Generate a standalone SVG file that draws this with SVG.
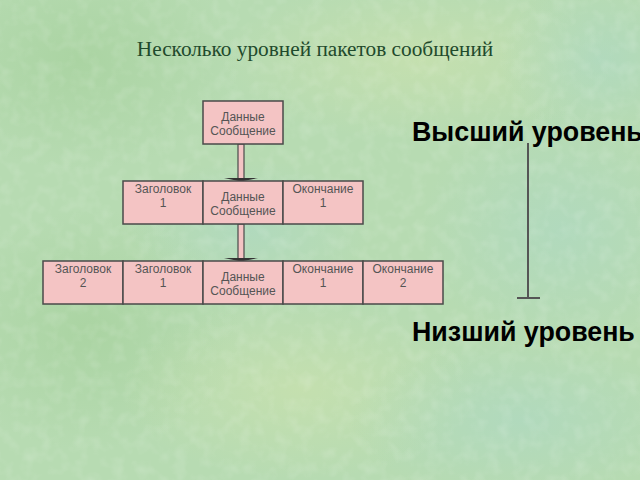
<svg xmlns="http://www.w3.org/2000/svg" width="640" height="480" viewBox="0 0 640 480">
  <defs>
    <style>
      .box { fill: #f4c4c4; stroke: #4a4a4a; stroke-width: 1.5; }
      .lbl { font-family: "Liberation Sans", Arial, sans-serif; font-size: 12px; fill: #555555; text-anchor: middle; }
      .title { font-family: "Liberation Serif", "Times New Roman", serif; font-size: 21.3px; fill: #1f4a2c; text-anchor: middle; }
      .level { font-family: "Liberation Sans", Arial, sans-serif; font-size: 26.8px; font-weight: bold; fill: #000000; }
      .bar { fill: #f4c4c4; stroke: #4a4a4a; stroke-width: 1.2; }
      .head { fill: #333333; }
      .scale { stroke: #555555; stroke-width: 2; fill: none; }
    </style>
    <radialGradient id="g1" cx="0.5" cy="0.5" r="0.5">
      <stop offset="0" stop-color="#cfe3ac" stop-opacity="0.55"/>
      <stop offset="1" stop-color="#cfe3ac" stop-opacity="0"/>
    </radialGradient>
    <radialGradient id="g2" cx="0.5" cy="0.5" r="0.5">
      <stop offset="0" stop-color="#acd8c6" stop-opacity="0.55"/>
      <stop offset="1" stop-color="#acd8c6" stop-opacity="0"/>
    </radialGradient>
    <radialGradient id="g3" cx="0.5" cy="0.5" r="0.5">
      <stop offset="0" stop-color="#a2cf98" stop-opacity="0.6"/>
      <stop offset="1" stop-color="#a2cf98" stop-opacity="0"/>
    </radialGradient>
    <filter id="tex" x="0" y="0" width="100%" height="100%">
      <feTurbulence type="fractalNoise" baseFrequency="0.08" numOctaves="2" seed="3" result="n"/>
      <feColorMatrix type="matrix" values="0 0 0 0 1  0 0 0 0 1  0 0 0 0 1  0 0 0 -1.4 0.8" in="n"/>
    </filter>
  </defs>

  <g id="background">
    <rect x="0" y="0" width="640" height="480" fill="#b7dbb2"/>
    <ellipse cx="80" cy="60" rx="160" ry="110" fill="url(#g3)"/>
    <ellipse cx="420" cy="60" rx="200" ry="80" fill="url(#g1)"/>
    <ellipse cx="560" cy="230" rx="140" ry="120" fill="url(#g2)"/>
    <ellipse cx="90" cy="330" rx="150" ry="120" fill="url(#g3)"/>
    <ellipse cx="300" cy="390" rx="180" ry="90" fill="url(#g1)"/>
    <ellipse cx="520" cy="420" rx="170" ry="80" fill="url(#g2)"/>
    <ellipse cx="250" cy="230" rx="120" ry="70" fill="url(#g2)"/>
    <ellipse cx="600" cy="60" rx="100" ry="80" fill="url(#g2)"/>
    <rect x="0" y="0" width="640" height="480" filter="url(#tex)" opacity="0.2"/>
  </g>

  <text class="title" x="315" y="56">Несколько уровней пакетов сообщений</text>

  <g id="connectors">
    <rect class="bar" x="238" y="144" width="6" height="35"/>
    <polygon class="head" points="224,178 258,178 241,181.5"/>
    <rect class="bar" x="238" y="224" width="6" height="35"/>
    <polygon class="head" points="224,258 258,258 241,261.5"/>
  </g>

  <g id="top-data">
    <rect class="box" x="203" y="101" width="80" height="43"/>
    <text class="lbl" x="243" y="121">Данные</text>
    <text class="lbl" x="243" y="135">Сообщение</text>
  </g>

  <g id="mid-header1">
    <rect class="box" x="123" y="181" width="80" height="43"/>
    <text class="lbl" x="163" y="193">Заголовок</text>
    <text class="lbl" x="163" y="207">1</text>
  </g>
  <g id="mid-data">
    <rect class="box" x="203" y="181" width="80" height="43"/>
    <text class="lbl" x="243" y="201">Данные</text>
    <text class="lbl" x="243" y="215">Сообщение</text>
  </g>
  <g id="mid-trailer1">
    <rect class="box" x="283" y="181" width="80" height="43"/>
    <text class="lbl" x="323" y="193">Окончание</text>
    <text class="lbl" x="323" y="207">1</text>
  </g>

  <g id="bot-header2">
    <rect class="box" x="43" y="261" width="80" height="43"/>
    <text class="lbl" x="83" y="273">Заголовок</text>
    <text class="lbl" x="83" y="287">2</text>
  </g>
  <g id="bot-header1">
    <rect class="box" x="123" y="261" width="80" height="43"/>
    <text class="lbl" x="163" y="273">Заголовок</text>
    <text class="lbl" x="163" y="287">1</text>
  </g>
  <g id="bot-data">
    <rect class="box" x="203" y="261" width="80" height="43"/>
    <text class="lbl" x="243" y="281">Данные</text>
    <text class="lbl" x="243" y="295">Сообщение</text>
  </g>
  <g id="bot-trailer1">
    <rect class="box" x="283" y="261" width="80" height="43"/>
    <text class="lbl" x="323" y="273">Окончание</text>
    <text class="lbl" x="323" y="287">1</text>
  </g>
  <g id="bot-trailer2">
    <rect class="box" x="363" y="261" width="80" height="43"/>
    <text class="lbl" x="403" y="273">Окончание</text>
    <text class="lbl" x="403" y="287">2</text>
  </g>

  <g id="level-scale">
    <line class="scale" x1="528" y1="143" x2="528" y2="298"/>
    <line class="scale" x1="517" y1="298" x2="540" y2="298"/>
    <text class="level" x="412" y="141">Высший уровень</text>
    <text class="level" x="412" y="341">Низший уровень</text>
  </g>
</svg>
